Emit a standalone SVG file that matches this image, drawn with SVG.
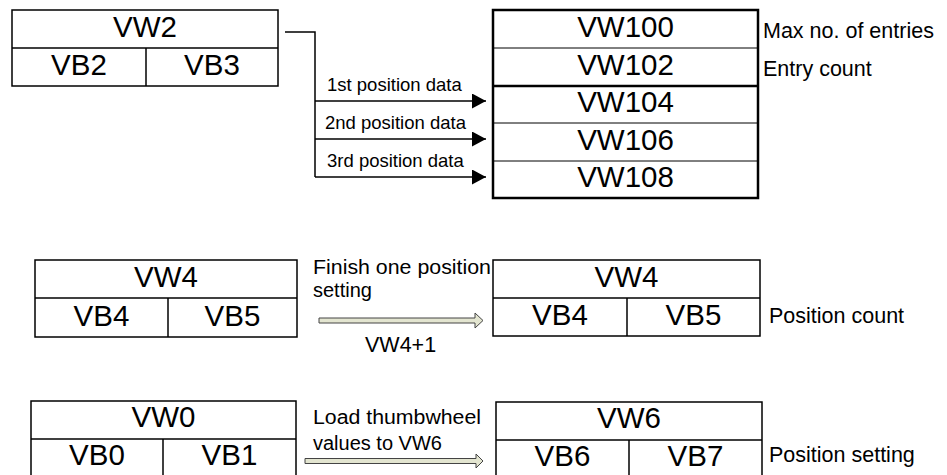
<svg xmlns="http://www.w3.org/2000/svg" width="947" height="475" viewBox="0 0 947 475">
<defs>
<style>
.box{fill:#fff;stroke:#000;stroke-width:1.5}
.ln{stroke:#000;stroke-width:1.5;fill:none}
.thick{stroke:#000;stroke-width:2.5;fill:none}
.big{font-family:"Liberation Sans",Arial,sans-serif;font-size:29.5px;text-anchor:middle;fill:#000}
.lbl{font-family:"Liberation Sans",Arial,sans-serif;font-size:21.5px;fill:#000}
.lbl2{font-family:"Liberation Sans",Arial,sans-serif;font-size:20px;fill:#000}
.sm{font-family:"Liberation Sans",Arial,sans-serif;font-size:18.5px;fill:#000}
.hollow{fill:#e3e5d0;stroke:#444;stroke-width:1}
.conn{stroke:#000;stroke-width:1.5;fill:none}
</style>
<marker id="ah" markerWidth="14" markerHeight="15" refX="14" refY="7.5" orient="auto" markerUnits="userSpaceOnUse">
<path d="M0,0 L14,7.5 L0,15 z" fill="#000"/>
</marker>
</defs>
<rect width="947" height="475" fill="#fff"/>

<g id="vw2">
<rect class="box" x="12" y="10" width="266" height="76"/>
<line class="ln" x1="12" y1="48" x2="278" y2="48"/>
<line class="ln" x1="146" y1="48" x2="146" y2="86"/>
<text class="big" x="145" y="37">VW2</text>
<text class="big" x="79" y="75">VB2</text>
<text class="big" x="212" y="75">VB3</text>
</g>

<g id="vw100">
<rect x="493" y="10" width="265" height="188" fill="#fff" stroke="#000" stroke-width="2.5"/>
<line class="ln" x1="493" y1="48" x2="758" y2="48" style="stroke-width:1"/>
<line class="thick" x1="493" y1="86" x2="758" y2="86"/>
<line class="ln" x1="493" y1="123" x2="758" y2="123" style="stroke-width:1"/>
<line class="ln" x1="493" y1="161" x2="758" y2="161" style="stroke-width:1"/>
<text class="big" x="625.5" y="37">VW100</text>
<text class="big" x="625.5" y="75">VW102</text>
<text class="big" x="625.5" y="112">VW104</text>
<text class="big" x="625.5" y="150">VW106</text>
<text class="big" x="625.5" y="187">VW108</text>
<text class="lbl" x="763" y="38">Max no. of entries</text>
<text class="lbl" x="763" y="76">Entry count</text>
</g>

<g id="connectors">
<polyline class="conn" points="285,32 315,32 315,177"/>
<line class="conn" x1="315" y1="101" x2="486" y2="101" marker-end="url(#ah)"/>
<line class="conn" x1="315" y1="139" x2="486" y2="139" marker-end="url(#ah)"/>
<line class="conn" x1="315" y1="177" x2="486" y2="177" marker-end="url(#ah)"/>
<text class="sm" x="327" y="91">1st position data</text>
<text class="sm" x="325" y="129">2nd position data</text>
<text class="sm" x="327" y="167">3rd position data</text>
<path class="hollow" d="M319,318 L475,318 L475,313 L483,320.5 L475,328 L475,323 L319,323 Z"/>
<path class="hollow" d="M305,458.5 L476,458.5 L476,454 L483,461 L476,468 L476,463.5 L305,463.5 Z"/>
</g>

<g id="vw4-left">
<rect class="box" x="35" y="260" width="262" height="77"/>
<line class="ln" x1="35" y1="298" x2="297" y2="298"/>
<line class="ln" x1="168" y1="298" x2="168" y2="337"/>
<text class="big" x="166" y="287">VW4</text>
<text class="big" x="101.5" y="326">VB4</text>
<text class="big" x="232.5" y="326">VB5</text>
</g>

<g id="step1">
<text class="lbl2" x="313" y="274" textLength="178" lengthAdjust="spacingAndGlyphs">Finish one position</text>
<text class="lbl2" x="313" y="297">setting</text>
<text class="lbl" x="365" y="352">VW4+1</text>
</g>

<g id="vw4-right">
<rect class="box" x="493" y="260" width="267" height="76"/>
<line class="ln" x1="493" y1="298" x2="760" y2="298"/>
<line class="ln" x1="627" y1="298" x2="627" y2="336"/>
<text class="big" x="626.5" y="287">VW4</text>
<text class="big" x="560" y="325">VB4</text>
<text class="big" x="693.5" y="325">VB5</text>
<text class="lbl" x="769" y="323">Position count</text>
</g>

<g id="vw0">
<rect class="box" x="31" y="401" width="265" height="90"/>
<line class="ln" x1="31" y1="439" x2="296" y2="439"/>
<line class="ln" x1="163" y1="439" x2="163" y2="491"/>
<text class="big" x="163.5" y="427">VW0</text>
<text class="big" x="97" y="465">VB0</text>
<text class="big" x="229.5" y="465">VB1</text>
</g>

<g id="step2">
<text class="lbl2" x="313" y="424" textLength="168" lengthAdjust="spacingAndGlyphs">Load thumbwheel</text>
<text class="lbl2" x="313" y="450">values to VW6</text>
</g>

<g id="vw6">
<rect class="box" x="496" y="402" width="266" height="90"/>
<line class="ln" x1="496" y1="440" x2="762" y2="440"/>
<line class="ln" x1="629" y1="440" x2="629" y2="492"/>
<text class="big" x="629" y="428">VW6</text>
<text class="big" x="562.5" y="466">VB6</text>
<text class="big" x="695.5" y="466">VB7</text>
<text class="lbl" x="769" y="462">Position setting</text>
</g>
</svg>
